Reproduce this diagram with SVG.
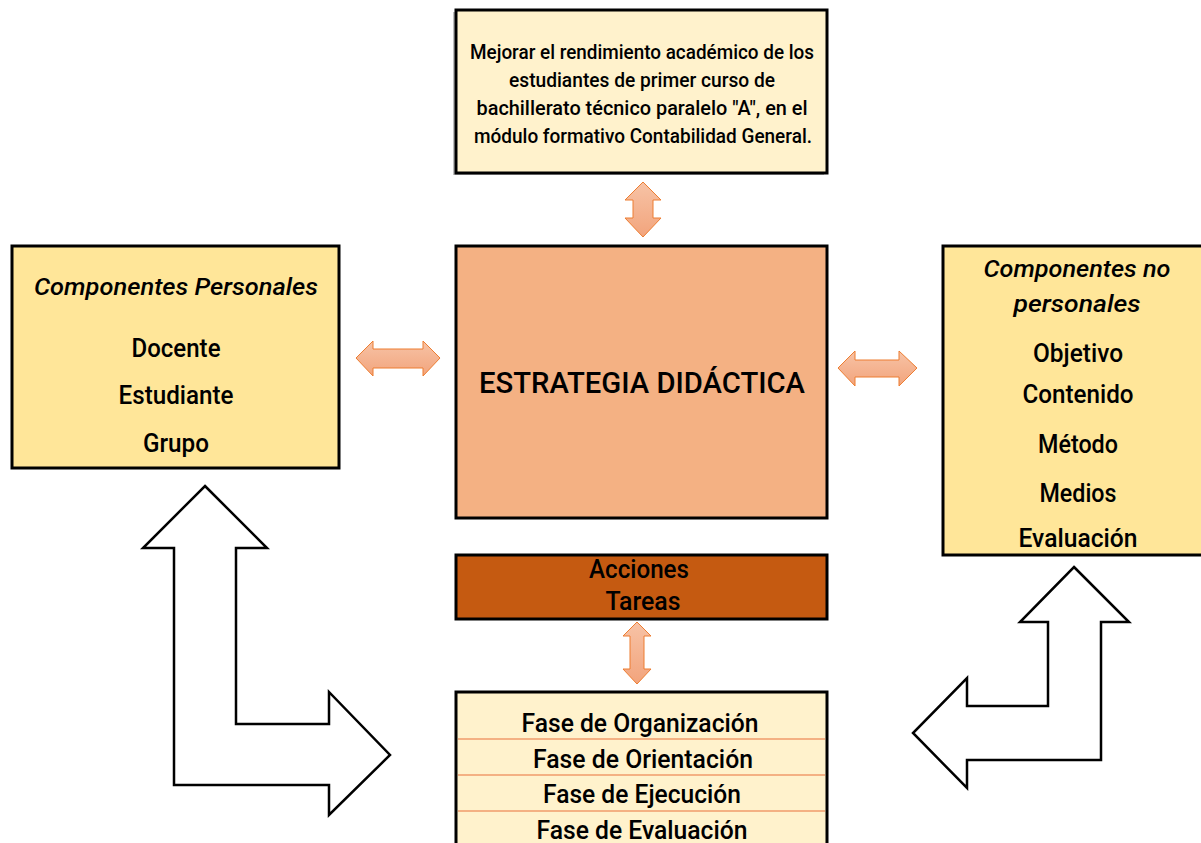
<svg xmlns="http://www.w3.org/2000/svg" width="1201" height="843" viewBox="0 0 1201 843">
<style>
.box{stroke:#000;stroke-width:3}
.t{font-family:Roboto,"Liberation Sans",sans-serif;font-weight:500;fill:#000;text-anchor:middle}
.it{font-style:italic}
.arr{fill:url(#ag);stroke:#ED7D31;stroke-width:1}
.big{fill:#fff;stroke:#000;stroke-width:2.5;stroke-linejoin:miter}
.sep{stroke:#F4B183;stroke-width:2}
</style>
<defs>
<linearGradient id="ag" x1="0" y1="0" x2="0" y2="1">
<stop offset="0" stop-color="#F7C3A6"/>
<stop offset="1" stop-color="#F2A47C"/>
</linearGradient>
<linearGradient id="agh" x1="0" y1="0" x2="0" y2="1">
<stop offset="0" stop-color="#F7C3A6"/>
<stop offset="1" stop-color="#F2A47C"/>
</linearGradient>
</defs>
<rect width="1201" height="843" fill="#fff"/>

<g id="objetivo">
<rect x="453" y="12" width="371" height="163" fill="#BFBFBF"/>
<rect class="box" x="456" y="10" width="371" height="163" fill="#FFF2CC"/>
<text class="t" x="642" y="59" font-size="20" textLength="344" lengthAdjust="spacingAndGlyphs">Mejorar el rendimiento académico de los</text>
<text class="t" x="642" y="87" font-size="20" textLength="266" lengthAdjust="spacingAndGlyphs">estudiantes de primer curso de</text>
<text class="t" x="642" y="115" font-size="20" textLength="331" lengthAdjust="spacingAndGlyphs">bachillerato técnico paralelo "A", en el</text>
<text class="t" x="643" y="143" font-size="20" textLength="338" lengthAdjust="spacingAndGlyphs">módulo formativo Contabilidad General.</text>
</g>

<g id="estrategia">
<rect class="box" x="456" y="246" width="371" height="272" fill="#F4B183"/>
<text class="t" x="642" y="393" font-size="30" textLength="326" lengthAdjust="spacingAndGlyphs">ESTRATEGIA DIDÁCTICA</text>
</g>

<g id="personales">
<rect class="box" x="12" y="246" width="327" height="222" fill="#FFE699"/>
<text class="t it" x="176" y="295" font-size="23" font-weight="400" textLength="284" lengthAdjust="spacingAndGlyphs">Componentes Personales</text>
<text class="t" x="176" y="357" font-size="25" textLength="89" lengthAdjust="spacingAndGlyphs">Docente</text>
<text class="t" x="176" y="404" font-size="25" textLength="115" lengthAdjust="spacingAndGlyphs">Estudiante</text>
<text class="t" x="176" y="452" font-size="25" textLength="66" lengthAdjust="spacingAndGlyphs">Grupo</text>
</g>

<g id="no-personales">
<rect class="box" x="943" y="246" width="272" height="309" fill="#FFE699"/>
<text class="t it" x="1077" y="277" font-size="23" font-weight="400" textLength="187" lengthAdjust="spacingAndGlyphs">Componentes no</text>
<text class="t it" x="1077" y="312" font-size="23" font-weight="400" textLength="127" lengthAdjust="spacingAndGlyphs">personales</text>
<text class="t" x="1078" y="362" font-size="25" textLength="90" lengthAdjust="spacingAndGlyphs">Objetivo</text>
<text class="t" x="1078" y="403" font-size="25" textLength="111" lengthAdjust="spacingAndGlyphs">Contenido</text>
<text class="t" x="1078" y="453" font-size="25" textLength="80" lengthAdjust="spacingAndGlyphs">Método</text>
<text class="t" x="1078" y="502" font-size="25" textLength="77" lengthAdjust="spacingAndGlyphs">Medios</text>
<text class="t" x="1078" y="547" font-size="25" textLength="119" lengthAdjust="spacingAndGlyphs">Evaluación</text>
</g>

<g id="acciones">
<rect class="box" x="456" y="555" width="371" height="64" fill="#C55A11"/>
<text class="t" x="639" y="578" font-size="25" textLength="100" lengthAdjust="spacingAndGlyphs">Acciones</text>
<text class="t" x="643" y="610" font-size="25" textLength="75" lengthAdjust="spacingAndGlyphs">Tareas</text>
</g>

<g id="fases">
<rect class="box" x="456" y="692" width="371" height="160" fill="#FFF2CC"/>
<line class="sep" x1="458" y1="739" x2="825" y2="739"/>
<line class="sep" x1="458" y1="775" x2="825" y2="775"/>
<line class="sep" x1="458" y1="811" x2="825" y2="811"/>
<text class="t" x="640" y="732" font-size="25" textLength="237" lengthAdjust="spacingAndGlyphs">Fase de Organización</text>
<text class="t" x="643" y="768" font-size="25" textLength="220" lengthAdjust="spacingAndGlyphs">Fase de Orientación</text>
<text class="t" x="642" y="803" font-size="25" textLength="198" lengthAdjust="spacingAndGlyphs">Fase de Ejecución</text>
<text class="t" x="642" y="839" font-size="25" textLength="211" lengthAdjust="spacingAndGlyphs">Fase de Evaluación</text>
</g>

<g id="connectors">
<polygon class="arr" points="643,182 661,200 653,200 653,218 661,218 643,237 625,218 633,218 633,200 625,200"/>
<polygon class="arr" points="356,358 373,341 373,349 423,349 423,341 440,358 423,376 423,368 373,368 373,376"/>
<polygon class="arr" points="838,368 855,351 855,360 899,360 899,351 917,368 899,386 899,377 855,377 855,386"/>
<polygon class="arr" points="637,622 651,636 644,636 644,669 651,669 637,684 623,669 630,669 630,636 623,636"/>
<polygon class="big" points="205,486 267,548 236,548 236,724 329,724 329,692 390,755 329,815 329,785 174,785 174,548 143,548"/>
<polygon class="big" points="1074,567 1129,622 1101,622 1101,760 967,760 967,788 913,733 967,678 967,706 1048,706 1048,622 1020,622"/>
</g>
</svg>
